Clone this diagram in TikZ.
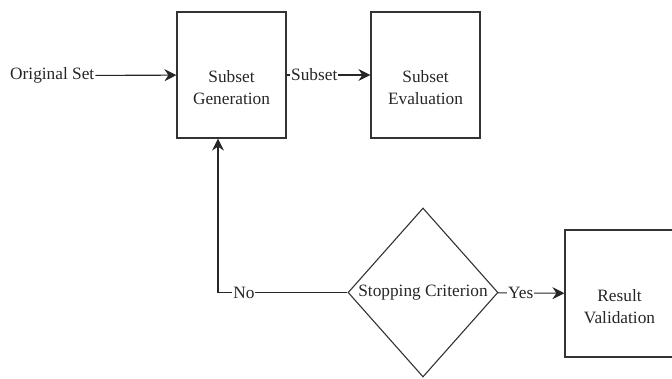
\documentclass[tikz,border=0pt]{standalone}
\usepackage{fontspec}
\setmainfont{Liberation Serif}
\usetikzlibrary{arrows.meta, positioning, shapes.geometric}

\begin{document}
\begin{tikzpicture}[
    x=1pt, y=-1pt,
    font=\fontsize{17.3}{22}\selectfont\rmfamily,
    stagebox/.style = {draw=black!80, line width=1.2pt,
                       minimum width=109pt, minimum height=126pt,
                       label={[align=center, yshift=-13pt, text=black!85,
                               font=\fontsize{17.3}{22}\selectfont\rmfamily]center:#1}},
    decision/.style = {diamond, draw=black!80, line width=1.1pt, aspect=0.888,
                       inner sep=0pt, minimum width=150pt, minimum height=169pt,
                       text=black!85},
    flow/.style     = {-{Stealth[length=12pt,width=12pt,inset=4pt]}, line width=1.1pt,
                       draw=black!85},
    edgetext/.style = {fill=white, inner sep=1pt, text=black!85}
]
\useasboundingbox (0,0) rectangle (672,378);

% Main stages
\node[stagebox={Subset\\Generation}] (gen) at (231.5,75) {};
\node[stagebox={Subset\\Evaluation}] (eval) at (425.5,75) {};
\node[decision] (stop) at (423,292.5) {Stopping Criterion};
\node[stagebox={Result\\Validation}, minimum height=127pt] (result) at (619.5,293.5) {};

% Input
\node[anchor=west, inner sep=1pt, text=black!85] (orig) at (9,75.5) {Original Set};

\draw[flow] (orig) -- (gen);
\draw[flow] (gen) -- node[edgetext, pos=0.33] {Subset} (eval);
\draw[flow] (stop) -- node[edgetext, pos=0.34] {Yes} (result);

% Loop back when the criterion is not met
\coordinate (loopcorner) at (218,292.5);
\draw[flow] (stop.west) -- node[edgetext, pos=0.8] {No} (loopcorner)
    -- (loopcorner |- gen.south);

\end{tikzpicture}
\end{document}
